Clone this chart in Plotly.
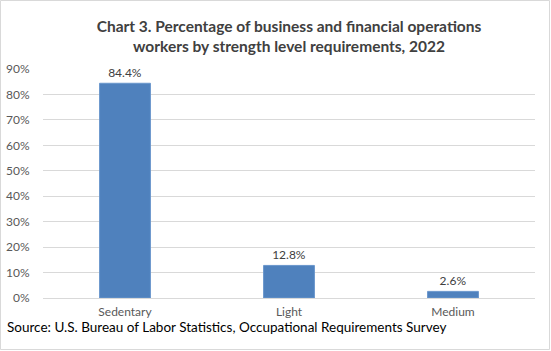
import plotly.graph_objects as go

categories = ["Sedentary", "Light", "Medium"]
values = [84.4, 12.8, 2.6]
labels = ["84.4%", "12.8%", "2.6%"]
tick_vals = [0, 10, 20, 30, 40, 50, 60, 70, 80, 90]
tick_text = ["0%", "10%", "20%", "30%", "40%", "50%", "60%", "70%", "80%", "90%"]

W, H = 551, 351
L, R, T, B = 43, 16, 69, 53
pw, ph = W - L - R, H - T - B

fig = go.Figure(go.Bar(
    x=categories, y=values, text=labels, textposition="outside",
    textfont=dict(family="Lato, Open Sans, sans-serif", size=12, color="#404040"),
    marker=dict(color="#4f81bd", line=dict(color="#6a96cc", width=1)),
    cliponaxis=False,
))

fig.update_layout(
    width=W, height=H,
    margin=dict(l=L, r=R, t=T, b=B, autoexpand=False),
    paper_bgcolor="white", plot_bgcolor="white",
    bargap=0.69,
    showlegend=False,
    font=dict(family="Lato, Open Sans, sans-serif", color="#595959"),
    title=dict(
        text="<b>Chart 3. Percentage of business and financial operations<br>workers by strength level requirements, 2022</b>",
        x=0.5, xref="paper", xanchor="center", y=1 - 31.5 / H, yanchor="middle",
        font=dict(family="Lato, Open Sans, sans-serif", size=15.5, color="#404040"),
    ),
    xaxis=dict(showgrid=False, showline=False, ticks="outside", ticklen=3,
               range=[-0.5, 2.5], automargin=False,
               tickcolor="rgba(0,0,0,0)", tickfont=dict(size=12, color="#595959")),
    yaxis=dict(range=[0, 90], tickvals=tick_vals, ticktext=tick_text,
               automargin=False,
               showgrid=True, gridcolor="#d9d9d9", gridwidth=1,
               zeroline=True, zerolinecolor="#d9d9d9", zerolinewidth=1,
               ticks="outside", ticklen=10, tickcolor="rgba(0,0,0,0)",
               tickfont=dict(size=12, color="#595959")),
)

fig.add_annotation(
    text="Source: U.S. Bureau of Labor Statistics, Occupational Requirements Survey",
    xref="paper", yref="paper", x=(5 - L) / pw, y=-(327 - (T + ph)) / ph,
    xanchor="left", yanchor="middle", showarrow=False,
    font=dict(family="Lato, Open Sans, sans-serif", size=13.5, color="#000000"),
)

fig.add_shape(type="rect", xref="paper", yref="paper",
              x0=-(L - 0.5) / pw, x1=(W - L - 1.5) / pw,
              y0=-(B - 1.5) / ph, y1=(ph + T - 0.5) / ph,
              line=dict(color="#d9d9d9", width=1), layer="below")

fig.write_html("out.html")
